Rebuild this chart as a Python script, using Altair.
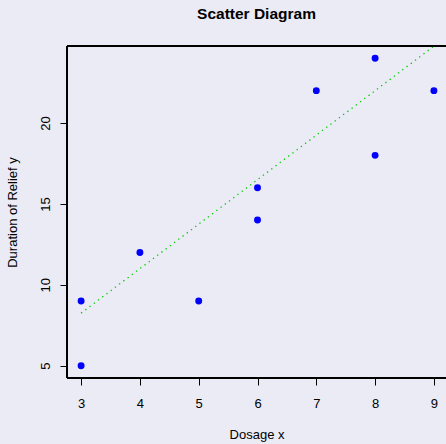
import altair as alt
import pandas as pd

dosage = [3, 3, 4, 5, 6, 6, 7, 8, 8, 9]
relief = [5, 9, 12, 9, 14, 16, 22, 18, 24, 22]
line_x = [3, 9]
line_y = [8.25, 24.75]

BG = "#EBEBF5"
FONT = "Liberation Sans"

pts = pd.DataFrame({"x": dosage, "y": relief})
ln = pd.DataFrame({"x": line_x, "y": line_y})

W, H = 379, 332
xs = alt.Scale(domain=[2.76, 2.76 + W / 58.8], nice=False, zero=False)
ys = alt.Scale(domain=[4.24, 24.76], nice=False, zero=False)

xax = alt.Axis(title="Dosage x", values=[3, 4, 5, 6, 7, 8, 9], format="d", grid=False, domain=False,
               tickColor="black", tickSize=7, labelPadding=12.5, labelFontSize=13,
               labelColor="black", titleFontSize=13, titleFontWeight="normal",
               titlePadding=18, titleColor="black", labelFont=FONT, titleFont=FONT)
yax = alt.Axis(title="Duration of Relief y", values=[5, 10, 15, 20], format="d", grid=False, domain=False,
               tickColor="black", tickSize=7, labelAngle=-90, labelAlign="center",
               labelBaseline="bottom", labelPadding=8, labelFontSize=13, labelColor="black",
               titleFontSize=13, titleFontWeight="normal", titlePadding=20, titleColor="black",
               labelFont=FONT, titleFont=FONT)

line = alt.Chart(ln).mark_line(color="#00CC00", strokeDash=[1.3, 4], strokeWidth=1.3, clip=True).encode(
    x=alt.X("x:Q", scale=xs, axis=xax),
    y=alt.Y("y:Q", scale=ys, axis=yax),
)
points = alt.Chart(pts).mark_circle(color="#0000FF", size=48, opacity=1).encode(
    x=alt.X("x:Q", scale=xs),
    y=alt.Y("y:Q", scale=ys),
)
frame_top = alt.Chart(pts).mark_rule(color="black", strokeWidth=1).encode(
    x=alt.value(0), x2=alt.value(W), y=alt.value(0))
frame_left = alt.Chart(pts).mark_rule(color="black", strokeWidth=1).encode(
    x=alt.value(0), y=alt.value(0), y2=alt.value(H))
frame_bottom = alt.Chart(pts).mark_rule(color="black", strokeWidth=1).encode(
    x=alt.value(0), x2=alt.value(W), y=alt.value(H))

chart = (line + points + frame_top + frame_left + frame_bottom).properties(
    width=W, height=H,
    title=alt.TitleParams("Scatter Diagram", fontSize=15.5, font=FONT, fontWeight="bold",
                          anchor="middle", offset=23.5, color="black"),
    background=BG,
    padding={"left": 67, "top": 46, "right": 0, "bottom": 66},
    autosize=alt.AutoSizeParams(type="none"),
).configure_view(stroke=None, fill=BG)

css = ("html,body{background:#EBEBF5;overflow:hidden;margin:0;padding:0}"
       ".vega-embed{display:block;width:446px;height:444px;overflow:hidden}"
       ".vega-embed svg{display:block}")
chart.save("out.html", embed_options={"renderer": "svg", "actions": False, "defaultStyle": css})
